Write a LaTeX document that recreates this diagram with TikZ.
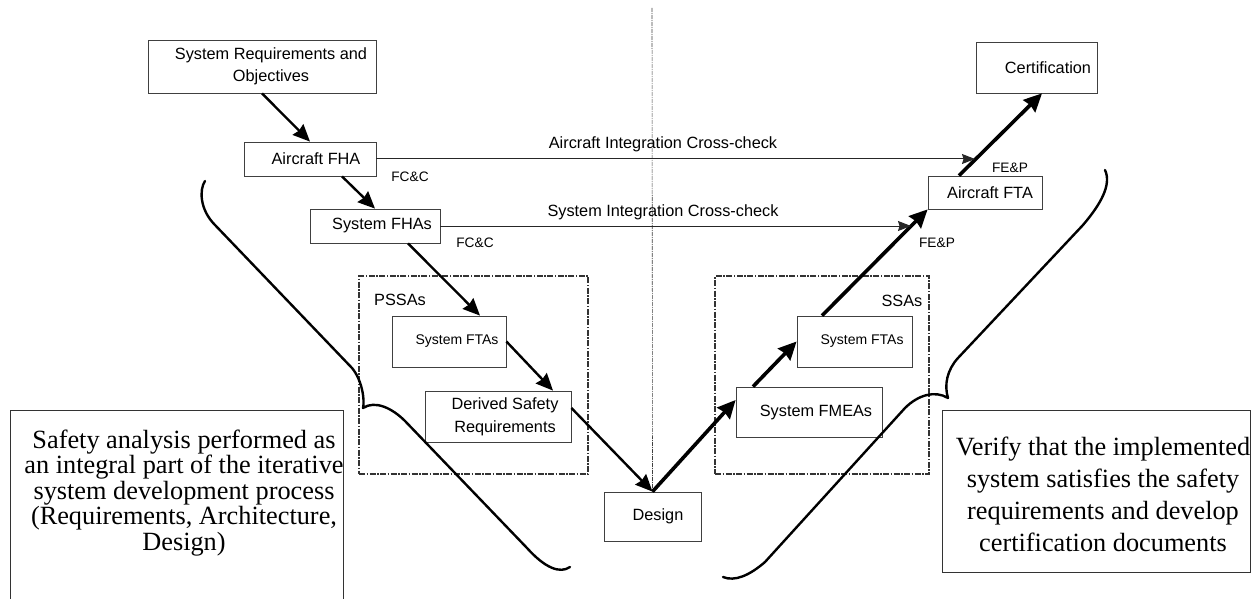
\documentclass[tikz,border=0pt]{standalone}
\usepackage{fontspec}
\setmainfont{Liberation Sans}
\newfontfamily\seriffont{Liberation Serif}
\usetikzlibrary{arrows.meta,calc}
\begin{document}
\begin{tikzpicture}[x=1pt,y=-1pt,
  box/.style={draw=black!75, line width=0.8pt, inner sep=0pt, font=\fontsize{16.3}{21.5}\selectfont, align=center},
  smallbox/.style={box, font=\fontsize{14}{17}\selectfont},
  grp/.style={draw=black!80, line width=1.1pt, inner sep=0pt, dash pattern=on 6pt off 1.5pt on 1.5pt off 1.5pt},
  midline/.style={line width=0.6pt, black!75, dash pattern=on 4pt off 1pt on 1pt off 1pt},
  flow/.style={line width=2.4pt, -{Stealth[length=17pt,width=15pt,inset=1.5pt]}},
  bigflow/.style={line width=3.6pt, -{Stealth[length=18pt,width=17pt,inset=1.5pt]}},
  check/.style={line width=1pt, black!85, -{Stealth[length=13pt,width=10pt,inset=1.5pt]}},
  lbl/.style={font=\fontsize{16.3}{19}\selectfont, inner sep=0pt},
  tag/.style={font=\fontsize{13.7}{16}\selectfont, inner sep=0pt},
  brace/.style={line width=2.4pt, line cap=round, line join=round},
  note/.style={font=\seriffont\fontsize{26.3}{25.5}\selectfont, align=center, inner sep=0pt},
  frame/.style={draw=black!80, line width=0.9pt, inner sep=0pt},
]
\useasboundingbox (0,0) rectangle (1256,599);

% groups
\node[grp, minimum width=229pt, minimum height=198pt] (pssa) at (473.5,375) {};
\node[grp, minimum width=214pt, minimum height=198pt] (ssa) at (822,375) {};
\node[lbl] (pssalbl) at (400,300) {PSSAs};
\node[lbl] (ssalbl) at (902,301) {SSAs};

% boxes
\node[box, minimum width=228pt, minimum height=53pt] (req) at (262,66.5) {\hspace*{18pt}System Requirements and\\\hspace*{18pt}Objectives};
\node[box, minimum width=132pt, minimum height=34pt] (afha) at (310,159) {\hspace*{12pt}Aircraft FHA};
\node[box, minimum width=130pt, minimum height=34pt] (sfha) at (375,226) {\hspace*{14pt}System FHAs};
\node[smallbox, minimum width=114pt, minimum height=51pt] (sfta1) at (449,341.5) {\hspace*{16pt}System FTAs};
\node[box, minimum width=146pt, minimum height=51pt, font=\fontsize{16.3}{23}\selectfont] (dsr) at (498,416.5) {\hspace*{14pt}Derived Safety\\\hspace*{14pt}Requirements};
\node[box, minimum width=97pt, minimum height=49pt] (design) at (652.5,516.5) {\hspace*{11pt}Design};
\node[smallbox, minimum width=115pt, minimum height=51pt] (sfta2) at (854.5,341.5) {\hspace*{15pt}System FTAs};
\node[box, minimum width=146pt, minimum height=50pt] (fmea) at (809,412) {\hspace*{14pt}System FMEAs};
\node[box, minimum width=114pt, minimum height=33pt] (afta) at (985,192.5) {\hspace*{10pt}Aircraft FTA};
\node[box, minimum width=121pt, minimum height=51pt] (cert) at (1036.5,67.5) {\hspace*{23pt}Certification};

% vertical divider
\coordinate (vtop) at (652,8);
\draw[midline] (vtop) -- (design.north);

% flow arrows
\draw[flow] (req.south) -- (afha.north);
\draw[flow] ([xshift=32pt]afha.south) -- (sfha.north);
\draw[flow] ([xshift=33pt]sfha.south) -- ([xshift=31pt]sfta1.north);
\draw[flow] (sfta1.east) -- ([xshift=55pt]dsr.north);
\draw[flow] ([yshift=8.5pt]dsr.east) -- (design.north);
\draw[bigflow] (design.north) -- ([yshift=12pt]fmea.west);
\draw[bigflow] ([xshift=-56pt]fmea.north) -- (sfta2.west);
\draw[bigflow] ([xshift=-32.5pt]sfta2.north) -- (afta.south west);
\draw[bigflow] ([xshift=-26pt]afta.north) -- ([xshift=5.5pt]cert.south);

% cross-checks
\coordinate (c1) at (975,159);
\coordinate (c2) at (911,226);
\draw[check] (afha.east) -- (c1);
\draw[check] (sfha.east) -- (c2);
\node[lbl] (aic) at (663,144) {Aircraft Integration Cross-check};
\node[lbl] (sic) at (663,212) {System Integration Cross-check};
\node[tag] (fcc1) at (410,177) {FC\&C};
\node[tag] (fcc2) at (475,243) {FC\&C};
\node[tag] (fep1) at (1010,168) {FE\&P};
\node[tag] (fep2) at (937,243) {FE\&P};

% braces
\draw[brace] (205,181) .. controls (199,190) and (200,210) .. (215,225) -- (352,368) .. controls (362,380) and (365,400) .. (363,408) .. controls (375,400) and (392,408) .. (405,421) -- (527,548) .. controls (545,568) and (560,574) .. (570,567);
\draw[brace] (723,577) .. controls (735,582) and (750,575) .. (765,562) -- (905,408) .. controls (918,395) and (935,390) .. (948,398) .. controls (944,385) and (947,370) .. (958,358) -- (1083,225) .. controls (1100,205) and (1112,185) .. (1105,170);

% notes
\node[frame, minimum width=333pt, minimum height=200pt] (leftbox) at (176.5,510) {};
\node[note] (lefttext) at (184,493) {Safety analysis performed as\\an integral part of the iterative\\system development process\\(Requirements, Architecture,\\Design)};
\node[frame, minimum width=308pt, minimum height=162pt] (rightbox) at (1096,491) {};
\node[note, font=\seriffont\fontsize{26.3}{32}\selectfont] (righttext) at (1103,494.5) {Verify that the implemented\\system satisfies the safety\\requirements and develop\\certification documents};
\end{tikzpicture}
\end{document}
